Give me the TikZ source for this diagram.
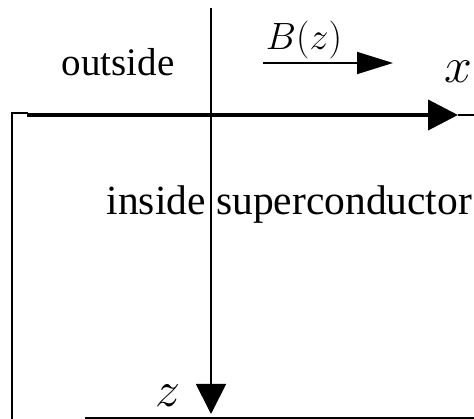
\documentclass[tikz,border=0pt]{standalone}
\usepackage{fix-cm}
\usepackage{fontspec}
\setmainfont{Liberation Serif}
\usetikzlibrary{arrows.meta}
\begin{document}
\begin{tikzpicture}[x=1pt,y=-1pt,
  txt/.style={inner sep=0pt,font=\fontsize{39}{44}\selectfont},
  txtb/.style={inner sep=0pt,font=\fontsize{41.5}{48}\selectfont},
  mth/.style={inner sep=0pt,font=\fontsize{38}{44}\selectfont},
  mthb/.style={inner sep=0pt,font=\fontsize{50}{58}\selectfont},
  thin line/.style={line width=1.8pt},
  bigtip/.style={-{Triangle[length=30pt,width=30pt]}}]
\useasboundingbox (0,0) rectangle (474,419);
% box
\coordinate (bl) at (12,419);
\coordinate (tl) at (12,113);
\coordinate (tr) at (28,113);
\coordinate (br0) at (85,418);
\coordinate (br) at (474,418);
\draw[thin line] (bl) -- (tl) -- (tr);
\draw[line width=1.5pt] (br0) -- (br);
% x axis
\coordinate (xs) at (27,115);
\coordinate (xe) at (458,115);
\coordinate (xend) at (474,115);
\draw[line width=1.2pt] (xe) -- (xend);
\draw[line width=4pt,-{Triangle[length=30pt,width=30pt]}] (xs) -- (xe);
% z axis
\coordinate (zs) at (211,8);
\coordinate (ze) at (211,414);
\draw[thin line,bigtip] (zs) -- (ze);
% B arrow
\coordinate (bs) at (263,63);
\coordinate (be) at (393,63);
\draw[line width=1.8pt,-{Triangle[length=36pt,width=22pt]}] (bs) -- (be);
% labels
\node[txt] (out) at (118,62) {outside};
\node[txtb,anchor=base east] (ins) at (206,215) {inside};
\node[txtb,anchor=base west] (sup) at (216,215) {superconductor};
\node[mth] (B) at (304,40) {$B(z)$};
\node[mthb] (xl) at (458,72) {$x$};
\node[mthb] (zl) at (168,396) {$z$};
\end{tikzpicture}
\end{document}
